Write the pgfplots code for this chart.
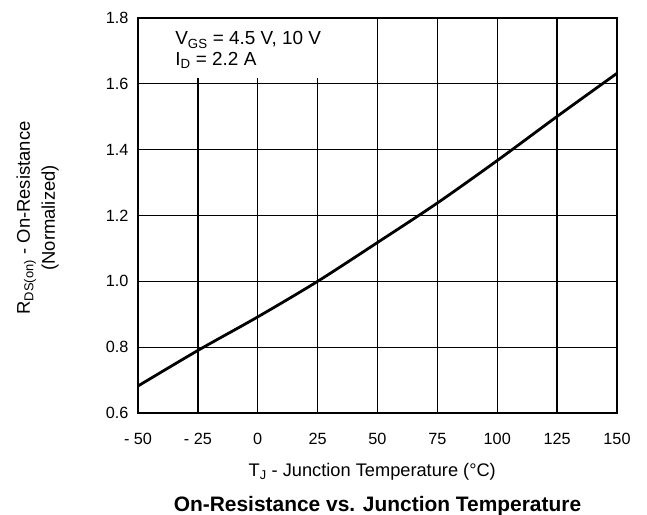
\documentclass[border=0pt]{standalone}
\usepackage{pgfplots}
\pgfplotsset{compat=1.18}
\usepackage{fontspec}
\setmainfont{Liberation Sans}
\begin{document}
\begin{tikzpicture}
\path[use as bounding box] (-138bp,-102bp) rectangle (509bp,413bp);
\begin{axis}[
  at={(0,0)}, anchor=south west,
  width=479bp, height=395bp, scale only axis,
  xmin=-50, xmax=150, ymin=0.6, ymax=1.8,
  xtick={-50,-25,0,25,50,75,100,125,150},
  xticklabels={- 50,- 25,0,25,50,75,100,125,150},
  ytick={0.6,0.8,1.0,1.2,1.4,1.6,1.8},
  yticklabels={0.6,0.8,1.0,1.2,1.4,1.6,1.8},
  grid=major,
  major grid style={black, line width=1.3bp},
  axis line style={line width=2.6bp},
  tick style={draw=none},
  ticklabel style={font=\fontsize{16.3}{18}\selectfont},
  xticklabel style={yshift=-17bp},
  yticklabel style={xshift=-6bp},
  xlabel={T\textsubscript{J} - Junction Temperature (°C)},
  xlabel style={font=\fontsize{18.3}{20}\selectfont, at={(axis description cs:0.489,-0.15)}, anchor=center},
  ylabel={\begin{tabular}{@{}c@{}}R\textsubscript{DS(on)} - On-Resistance\\(Normalized)\end{tabular}},
  ylabel style={font=\fontsize{18.5}{25}\selectfont, at={(axis description cs:-0.21,0.494)}, anchor=center},
  title={\textbf{On-Resistance vs. Junction Temperature}},
  title style={font=\fontsize{21}{24}\selectfont, at={(axis description cs:0.5,-0.25)}, anchor=center},
]
\fill[white] (axis cs:-49.4,1.617) rectangle (axis cs:49.6,1.796);
\node[anchor=base west, inner sep=0, font=\fontsize{19}{21}\selectfont] at (axis cs:-34.5,1.718) {V\textsubscript{GS} = 4.5 V, 10 V};
\node[anchor=base west, inner sep=0, font=\fontsize{19}{21}\selectfont] at (axis cs:-34.5,1.657) {I\textsubscript{D} = 2.2 A};
\addplot[black, line width=2.8bp, smooth] coordinates {
  (-50,0.682) (-25,0.790) (0,0.892) (25,1.000) (50,1.118)
  (75,1.238) (100,1.367) (125,1.501) (150,1.632)
};
\end{axis}
\end{tikzpicture}
\end{document}
